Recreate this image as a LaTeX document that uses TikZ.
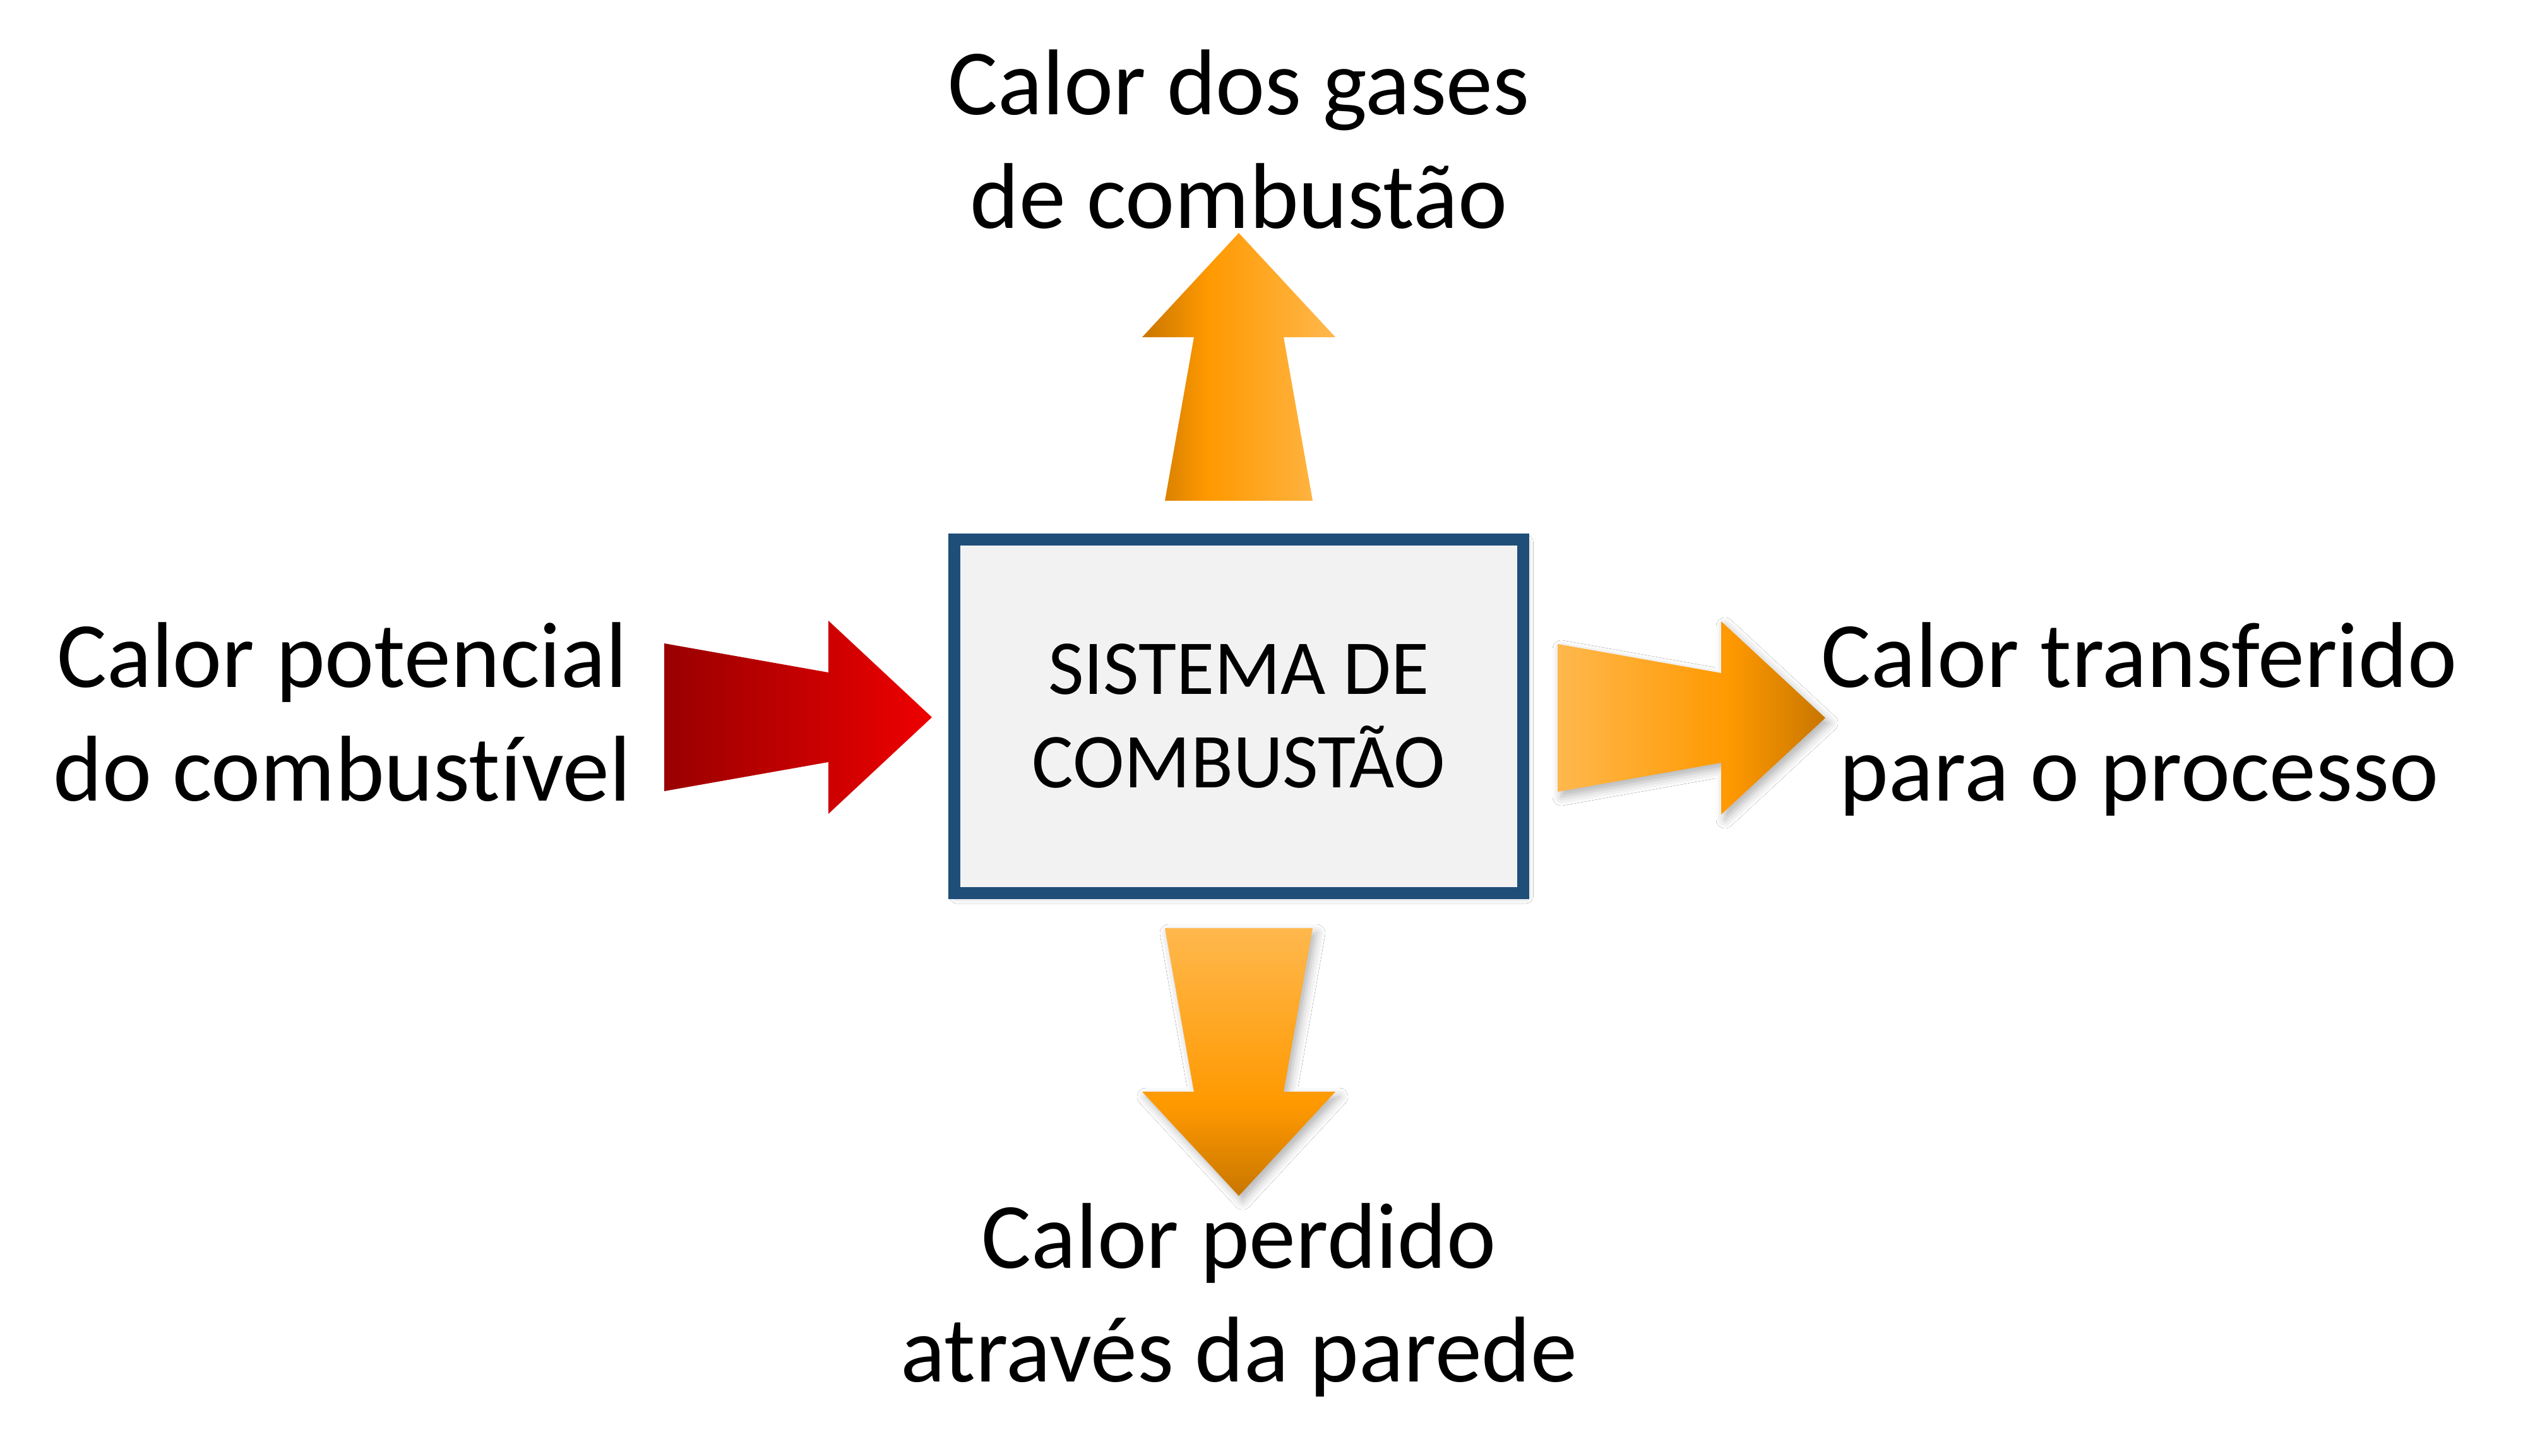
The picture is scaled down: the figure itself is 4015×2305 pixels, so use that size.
\documentclass[tikz,border=0pt]{standalone}
\usepackage{fontspec}
\setmainfont[Ligatures=NoCommon]{Carlito}
\usetikzlibrary{shadows.blur}
\definecolor{boxblue}{HTML}{1F4E79}
\definecolor{boxfill}{HTML}{F2F2F2}
\definecolor{odark}{HTML}{C87600}
\definecolor{opure}{HTML}{FF9900}
\definecolor{olight}{HTML}{FFB84D}
\definecolor{rdark}{HTML}{990000}
\definecolor{rbright}{HTML}{EE0000}
\pgfdeclarehorizontalshading{redshade}{100bp}{color(0bp)=(rdark); color(25bp)=(rdark); color(75bp)=(rbright); color(100bp)=(rbright)}
\pgfdeclarehorizontalshading{rightshade}{100bp}{color(0bp)=(olight); color(25bp)=(olight); color(57bp)=(opure); color(75bp)=(odark); color(100bp)=(odark)}
\pgfdeclarehorizontalshading{upshade}{100bp}{color(0bp)=(odark); color(25bp)=(odark); color(42bp)=(opure); color(75bp)=(olight); color(100bp)=(olight)}
\pgfdeclareverticalshading{downshade}{100bp}{color(0bp)=(odark); color(25bp)=(odark); color(42bp)=(opure); color(75bp)=(olight); color(100bp)=(olight)}
\tikzset{
  sysbox/.style={draw=boxblue, line width=19pt, fill=boxfill,
    minimum width=901pt, minimum height=560pt, inner sep=0pt, align=center,
    font=\fontsize{123}{148}\selectfont,
    blur shadow={shadow xshift=4pt, shadow yshift=-5pt, shadow blur radius=12pt, shadow opacity=35}},
  lbl/.style={anchor=base, align=center, inner sep=0pt, font=\fontsize{148}{180}\selectfont},
  arrowshadow/.style={blur shadow={shadow xshift=6pt, shadow yshift=-8pt, shadow blur radius=14pt, shadow opacity=30}}
}
\begin{document}
\begin{tikzpicture}[x=1pt, y=-1pt]
  \useasboundingbox (0,0) rectangle (4015,2305);
  \fill[white] (0,0) rectangle (4015,2305);

  % block arrows
  \path[shading=redshade, shade]
    (1052,1019) -- (1312,1065) -- (1312,983) -- (1476,1136) -- (1312,1289) -- (1312,1207) -- (1052,1253) -- cycle;
  \path[shading=rightshade, shade, arrowshadow]
    (2467,1020) -- (2726,1066) -- (2726,984) -- (2891,1137) -- (2726,1290) -- (2726,1208) -- (2467,1254) -- cycle;
  \path[shading=upshade, shade]
    (1845,793) -- (1891,534) -- (1809,534) -- (1962,369) -- (2115,534) -- (2033,534) -- (2079,793) -- cycle;
  \path[shading=downshade, shade, arrowshadow]
    (1845,1470) -- (1891,1729) -- (1809,1729) -- (1962,1894) -- (2115,1729) -- (2033,1729) -- (2079,1470) -- cycle;

  % central box
  \node[sysbox] (sys) at (1962,1134) {SISTEMA DE\\COMBUSTÃO};

  % labels (base anchor = baseline of the last line)
  \node[lbl] (gases) at (1962,361) {Calor dos gases\\de combustão};
  \node[lbl] (pot) at (542,1268) {Calor potencial\\do combustível};
  \node[lbl] (transf) at (3388,1268) {Calor transferido\\para o processo};
  \node[lbl] (perdido) at (1962,2188) {Calor perdido\\através da parede};
\end{tikzpicture}
\end{document}
